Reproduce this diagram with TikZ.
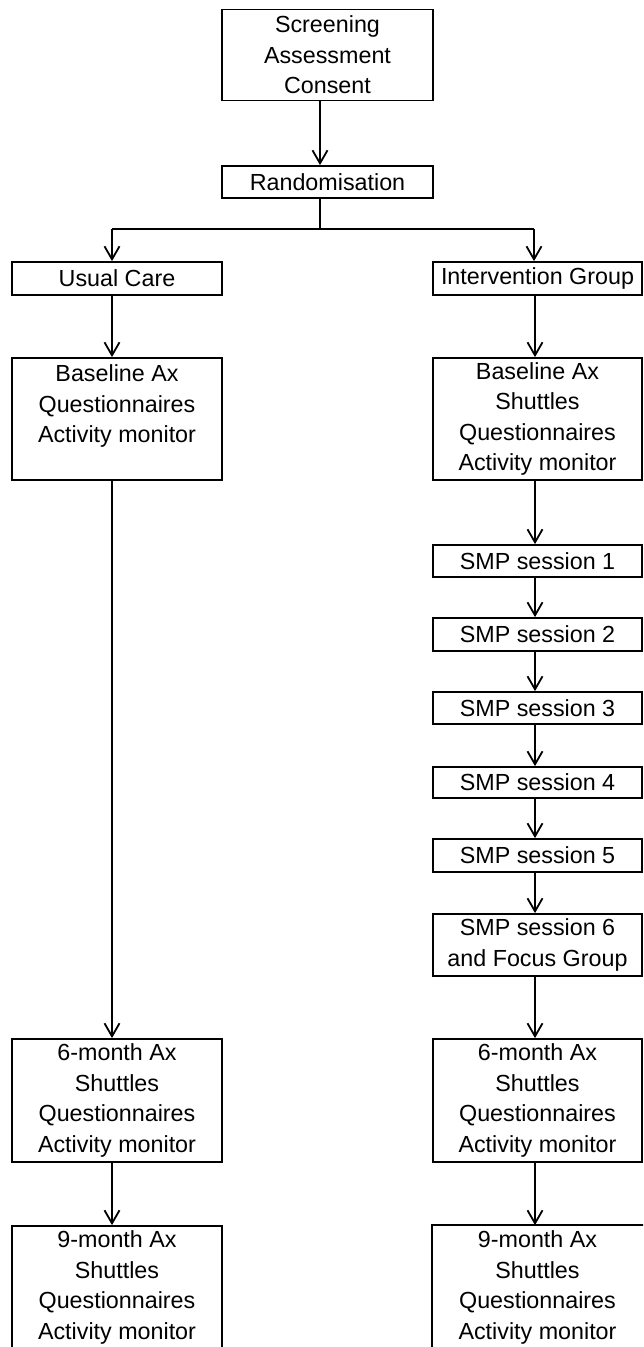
\documentclass[tikz,border=0pt]{standalone}
\usepackage{fontspec}
\setmainfont{Liberation Sans}
\usetikzlibrary{arrows.meta}
\begin{document}
\begin{tikzpicture}[x=1pt,y=-1pt,
  box/.style={draw, line width=1.8pt, inner sep=0pt, align=center,
    minimum width=210pt, font=\fontsize{23.3}{30.5}\selectfont},
  lbox/.style={box, minimum width=210pt},
  rbox/.style={box, minimum width=209pt},
  ln/.style={line width=1.8pt},
  arr/.style={ln, -{Straight Barb[length=13pt,width=15pt]}}]
\clip (0,0) rectangle (643,1347);
% nodes
\node[box, minimum width=211pt, minimum height=91pt] (top) at (327.5,55) {Screening\\Assessment\\Consent};
\node[box, minimum width=211pt, minimum height=32pt] (rand) at (327.5,182) {Randomisation};
\node[lbox, minimum height=33pt] (uc) at (117,278.5) {Usual Care};
\node[rbox, minimum height=33pt] (ig) at (537.5,278.5) {Intervention Group};
\node[lbox, minimum height=122pt] (bl) at (117,419) {Baseline Ax\\Questionnaires\\Activity monitor\\\mbox{}};
\node[rbox, minimum height=122pt] (br) at (537.5,419) {Baseline Ax\\Shuttles\\Questionnaires\\Activity monitor};
\node[rbox, minimum height=32pt] (s1) at (537.5,561) {SMP session 1};
\node[rbox, minimum height=33pt] (s2) at (537.5,634.5) {SMP session 2};
\node[rbox, minimum height=32pt] (s3) at (537.5,708) {SMP session 3};
\node[rbox, minimum height=31pt] (s4) at (537.5,782.5) {SMP session 4};
\node[rbox, minimum height=33pt] (s5) at (537.5,855.5) {SMP session 5};
\node[rbox, minimum height=62pt] (s6) at (537.5,945) {SMP session 6\\and Focus Group};
\node[lbox, minimum height=123pt] (m6l) at (117,1100.5) {6-month Ax\\Shuttles\\Questionnaires\\Activity monitor};
\node[rbox, minimum height=123pt] (m6r) at (537.5,1100.5) {6-month Ax\\Shuttles\\Questionnaires\\Activity monitor};
\node[lbox, minimum height=123pt] (m9l) at (117,1287.5) {9-month Ax\\Shuttles\\Questionnaires\\Activity monitor};
\node[rbox, draw=none, minimum height=123pt] (m9r) at (537.5,1287.5) {9-month Ax\\Shuttles\\Questionnaires\\Activity monitor};
\draw[ln] (m9r.south west) |- (m9r.north east) -- ++(6,0);
% connector columns
\coordinate (cx) at (320,0);
\coordinate (lx) at (112,0);
\coordinate (rx) at (535,0);
\coordinate (split) at (320,229);
\coordinate (lsplit) at (112,229);
\coordinate (rsplit) at (534,229);
\draw[arr] (top.south -| cx) -- (rand.north -| cx);
\draw[ln] (rand.south -| cx) -- (split);
\draw[ln] (lsplit) -- (rsplit);
\draw[arr] (lsplit) -- (uc.north -| lsplit);
\draw[arr] (rsplit) -- (ig.north -| rsplit);
\draw[arr] (uc.south -| lx) -- (bl.north -| lx);
\draw[arr] (bl.south -| lx) -- (m6l.north -| lx);
\draw[arr] (m6l.south -| lx) -- (m9l.north -| lx);
\draw[arr] (ig.south -| rx) -- (br.north -| rx);
\draw[arr] (br.south -| rx) -- (s1.north -| rx);
\draw[arr] (s1.south -| rx) -- (s2.north -| rx);
\draw[arr] (s2.south -| rx) -- (s3.north -| rx);
\draw[arr] (s3.south -| rx) -- (s4.north -| rx);
\draw[arr] (s4.south -| rx) -- (s5.north -| rx);
\draw[arr] (s5.south -| rx) -- (s6.north -| rx);
\draw[arr] (s6.south -| rx) -- (m6r.north -| rx);
\draw[arr] (m6r.south -| rx) -- (m9r.north -| rx);
\end{tikzpicture}
\end{document}
